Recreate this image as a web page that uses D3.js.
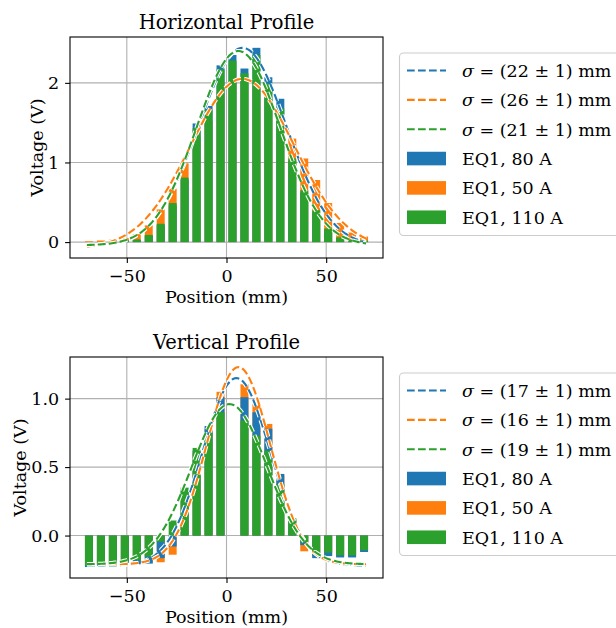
<!DOCTYPE html>
<html>
<head>
<meta charset="utf-8">
<script src="https://cdn.jsdelivr.net/npm/d3@7/dist/d3.min.js"></script>
<style>
  html, body { margin: 0; padding: 0; background: #ffffff; }
  svg { display: block; }
  text { font-family: "DejaVu Serif", serif; fill: #000; }
</style>
</head>
<body>
<svg id="chart" width="616" height="628"></svg>
<script>
// Beam profile scans: detector voltage per position for three magnet currents
const positions = [-69, -63, -57, -51, -45, -39, -33, -27, -21, -15, -9, -3,
                   3, 9, 15, 21, 27, 33, 39, 45, 51, 57, 63, 69];
const seriesNames = ["EQ1, 80 A", "EQ1, 50 A", "EQ1, 110 A"];
const seriesColors = ["#1f77b4", "#ff7f0e", "#2ca02c"];

// Horizontal scan (V)
const hBlue   = [0.00, 0.00, 0.01, 0.02, 0.03, 0.08, 0.21, 0.46, 0.78, 1.49, 1.71, 2.22,
                 2.35, 2.18, 2.44, 2.07, 1.80, 1.02, 0.62, 0.37, 0.15, 0.05, 0.02, 0.01];
const hOrange = [0.01, 0.02, 0.03, 0.05, 0.10, 0.21, 0.41, 0.67, 0.99, 1.32, 1.52, 1.88,
                 2.00, 2.02, 1.96, 1.80, 1.58, 1.30, 1.05, 0.78, 0.49, 0.24, 0.12, 0.07];
const hGreen  = [0.00, 0.00, 0.01, 0.02, 0.03, 0.09, 0.23, 0.49, 0.81, 1.43, 1.66, 2.17,
                 2.28, 2.12, 2.35, 1.99, 1.68, 1.05, 0.65, 0.40, 0.17, 0.06, 0.03, 0.02];

// Vertical scan (V)
const vBlue   = [-0.23, -0.22, -0.21, -0.20, -0.21, -0.205, -0.165, -0.08, 0.33, 0.62, 0.80, 1.01,
                 0.00, 1.01, 0.90, 0.78, 0.45, 0.12, -0.07, -0.165, -0.15, -0.16, -0.16, -0.12];
const vOrange = [-0.22, -0.21, -0.20, -0.19, -0.20, -0.20, -0.195, -0.14, 0.30, 0.60, 0.78, 1.05,
                 0.00, 1.105, 0.96, 0.815, 0.44, 0.11, -0.115, -0.16, -0.145, -0.155, -0.155, -0.11];
const vGreen  = [-0.22, -0.21, -0.205, -0.19, -0.18, -0.155, -0.045, 0.11, 0.35, 0.64, 0.75, 0.90,
                 0.00, 0.84, 0.73, 0.62, 0.375, 0.127, -0.05, -0.137, -0.125, -0.145, -0.145, -0.107];

// Gaussian fit parameters: amplitude, centre (mm), sigma (mm), offset (V)
const hFitSigma  = [22, 26, 21];
const hFitAmp    = [2.49, 2.13, 2.44];
const hFitCenter = [8, 8, 6];
const hFitOffset = [-0.05, -0.08, -0.04];

const vFitSigma  = [17, 16, 19];
const vFitAmp    = [1.37, 1.44, 1.17];
const vFitCenter = [5, 6, 1.5];
const vFitOffset = [-0.22, -0.21, -0.21];

const xTicks = [-50, 0, 50];
const hYTicks = [0, 1, 2];
const vYTicks = [0.0, 0.5, 1.0];

const svg = d3.select("#chart");
const FONT = 17.5;
const FAMILY = "DejaVu Serif";

function gaussian(x, a, mu, s, c) {
  return a * Math.exp(-((x - mu) * (x - mu)) / (2 * s * s)) + c;
}

function drawPanel(opt) {
  const left = 70, right = 383;
  const top = opt.top, bottom = opt.top + 221;
  const x = d3.scaleLinear().domain([-78.5, 78.5]).range([left, right]);
  const y = d3.scaleLinear().domain(opt.yDomain).range([bottom, top]);
  const g = svg.append("g");

  // grid
  g.append("g").selectAll("line").data(xTicks).join("line")
    .attr("x1", d => x(d)).attr("x2", d => x(d))
    .attr("y1", top).attr("y2", bottom)
    .attr("stroke", "#b0b0b0").attr("stroke-width", 1.1);
  g.append("g").selectAll("line").data(opt.yTicks).join("line")
    .attr("x1", left).attr("x2", right)
    .attr("y1", d => y(d)).attr("y2", d => y(d))
    .attr("stroke", "#b0b0b0").attr("stroke-width", 1.1);

  // bars: 50 A first, then 80 A, then 110 A on top
  const barW = x(4) - x(0);
  const order = [1, 0, 2];
  order.forEach(i => {
    const vals = opt.values[i];
    g.append("g").selectAll("rect").data(positions.map((p, k) => ({ p, v: vals[k] })))
      .join("rect")
      .attr("x", d => x(d.p) - barW / 2)
      .attr("width", barW)
      .attr("y", d => Math.min(y(d.v), y(0)))
      .attr("height", d => Math.abs(y(d.v) - y(0)))
      .attr("fill", seriesColors[i]);
  });

  // fitted curves with a white outline
  const xs = d3.range(0, 201).map(k => -70 + k * 0.7);
  const line = d3.line().x(d => x(d[0])).y(d => y(d[1]));
  [0, 1, 2].forEach(i => {
    const pts = xs.map(xv => [xv, gaussian(xv, opt.amp[i], opt.center[i], opt.sigma[i], opt.offset[i])]);
    g.append("path").attr("d", line(pts)).attr("fill", "none")
      .attr("stroke", "#ffffff").attr("stroke-width", 4.2)
      .attr("stroke-dasharray", "7.7,3.3").attr("stroke-linecap", "butt");
    g.append("path").attr("d", line(pts)).attr("fill", "none")
      .attr("stroke", seriesColors[i]).attr("stroke-width", 2.1)
      .attr("stroke-dasharray", "7.7,3.3").attr("stroke-linecap", "butt");
  });

  // axes
  const xAxis = d3.axisBottom(x).tickValues(xTicks).tickSize(4.9).tickPadding(7)
    .tickFormat(d3.format("d"));
  const ax = g.append("g").attr("transform", `translate(0,${bottom})`).call(xAxis);
  ax.select(".domain").remove();
  ax.selectAll("line").attr("stroke", "#000").attr("stroke-width", 1.1);
  ax.selectAll("text").attr("font-size", FONT).attr("font-family", FAMILY);

  const yAxis = d3.axisLeft(y).tickValues(opt.yTicks).tickSize(4.9).tickPadding(6)
    .tickFormat(d3.format(opt.yFormat));
  const ay = g.append("g").attr("transform", `translate(${left},0)`).call(yAxis);
  ay.select(".domain").remove();
  ay.selectAll("line").attr("stroke", "#000").attr("stroke-width", 1.1);
  ay.selectAll("text").attr("font-size", FONT).attr("font-family", FAMILY);

  // frame
  g.append("rect").attr("x", left).attr("y", top)
    .attr("width", right - left).attr("height", bottom - top)
    .attr("fill", "none").attr("stroke", "#000").attr("stroke-width", 1.1);

  // labels
  g.append("text").attr("x", (left + right) / 2).attr("y", top - 8)
    .attr("text-anchor", "middle").attr("font-size", 19.5).text(opt.title);
  g.append("text").attr("x", (left + right) / 2).attr("y", bottom + 45)
    .attr("text-anchor", "middle").attr("font-size", FONT).text("Position (mm)");
  g.append("text")
    .attr("transform", `translate(${opt.yLabelX},${(top + bottom) / 2}) rotate(-90)`)
    .attr("text-anchor", "middle").attr("font-size", FONT).text("Voltage (V)");

  // legend
  const lg = g.append("g");
  const ly0 = top + 16;
  lg.append("rect").attr("x", 399.5).attr("y", ly0).attr("width", 230).attr("height", 182.5)
    .attr("rx", 4).attr("fill", "#ffffff").attr("fill-opacity", 0.8)
    .attr("stroke", "#cccccc").attr("stroke-width", 1.1);
  const rowY = k => ly0 + 17.5 + k * 29.35;
  [0, 1, 2].forEach(i => {
    lg.append("line").attr("x1", 407).attr("x2", 446)
      .attr("y1", rowY(i)).attr("y2", rowY(i))
      .attr("stroke", seriesColors[i]).attr("stroke-width", 2.1)
      .attr("stroke-dasharray", "7.7,3.3");
    const t = lg.append("text").attr("x", 462).attr("y", rowY(i)).attr("dy", "0.36em")
      .attr("font-size", FONT);
    t.append("tspan").attr("font-style", "italic").text("σ");
    t.append("tspan").text(` = (${opt.sigma[i]} ± 1) mm`);
  });
  [0, 1, 2].forEach(i => {
    const ry = rowY(i + 3);
    lg.append("rect").attr("x", 407).attr("y", ry - 6.8).attr("width", 39).attr("height", 13.6)
      .attr("fill", seriesColors[i]);
    lg.append("text").attr("x", 462).attr("y", ry).attr("dy", "0.36em")
      .attr("font-size", FONT).text(seriesNames[i]);
  });
}

drawPanel({
  top: 37, title: "Horizontal Profile", yLabelX: 43,
  yDomain: [-0.2, 2.576], yTicks: hYTicks, yFormat: "d",
  values: [hBlue, hOrange, hGreen],
  sigma: hFitSigma, amp: hFitAmp, center: hFitCenter, offset: hFitOffset
});

drawPanel({
  top: 357, title: "Vertical Profile", yLabelX: 26,
  yDomain: [-0.31, 1.304], yTicks: vYTicks, yFormat: ".1f",
  values: [vBlue, vOrange, vGreen],
  sigma: vFitSigma, amp: vFitAmp, center: vFitCenter, offset: vFitOffset
});
</script>
</body>
</html>
